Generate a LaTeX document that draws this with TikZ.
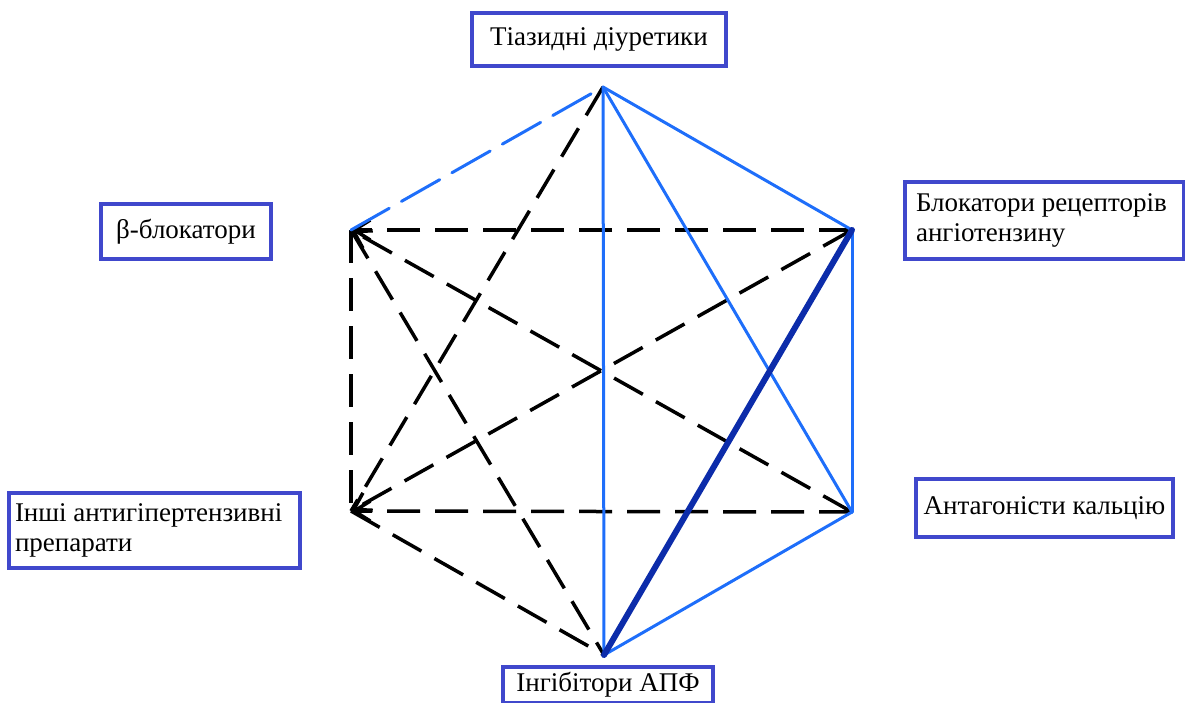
\documentclass[tikz,border=0pt]{standalone}
\usepackage{fontspec}
\setmainfont{Liberation Serif}
\usetikzlibrary{arrows.meta}
\definecolor{boxblue}{RGB}{64,72,204}
\definecolor{lineblue}{RGB}{30,110,250}
\definecolor{darkblue}{RGB}{12,44,170}
\begin{document}
\begin{tikzpicture}[x=1pt,y=-1pt,
  lbl/.style={draw=boxblue, line width=3.5pt, fill=white, inner xsep=6pt, inner ysep=2pt,
              font=\fontsize{27}{30}\selectfont},
  blk/.style={black, line width=3.5pt, dash pattern=on 33pt off 15pt},
  blu/.style={lineblue, line width=3pt, line cap=round},
  thk/.style={darkblue, line width=6pt, line cap=round},
  tip/.style={-{Straight Barb[length=16pt,width=20pt]}}
]
\useasboundingbox (0,0) rectangle (1185,702);

% vertices
\coordinate (T) at (603,87);
\coordinate (B) at (351,230);
\coordinate (A) at (852,230);
\coordinate (O) at (351,511);
\coordinate (C) at (852,512);
\coordinate (I) at (604,655);

% black dashed connectors
\draw[blk] (T) -- (O);
\draw[blk] (B) -- (O);
\draw[blk] (B) -- (I);
\draw[blk] (O) -- (I);
\draw[blk,tip] (A) -- (B);
\draw[blk,tip] (C) -- (B);
\draw[blk,tip] (A) -- (O);
\draw[blk,tip] (C) -- (O);

% blue connectors
\draw[blu, dash pattern=on 44pt off 14pt] (B) -- (T);
\draw[blu] (T) -- (A);
\draw[blu] (T) -- (C);
\draw[blu] (T) -- (I);
\draw[blu] (A) -- (C);
\draw[blu] (C) -- (I);
\draw[thk] (A) -- (I);

% labels
\node[lbl, minimum width=254pt, minimum height=53pt] (nT) at (599,39.5) {Тіазидні діуретики};
\node[lbl, minimum width=170pt, minimum height=55pt] (nB) at (186,231.5) {β-блокатори};
\node[lbl, align=flush left, text width=279pt, minimum height=75pt] (nO) at (154.5,530.5)
  {Інші антигіпертензивні\\препарати};
\node[lbl, align=flush left, text width=257pt, inner xsep=11pt, minimum height=77pt] (nA) at (1044.5,220.5)
  {Блокатори рецепторів\\ангіотензину};
\node[lbl, minimum width=257pt, minimum height=58pt] (nC) at (1044.5,508) {Антагоністи кальцію};
\node[lbl, minimum width=210pt, minimum height=36pt] (nI) at (608,685) {Інгібітори АПФ};
\end{tikzpicture}
\end{document}
